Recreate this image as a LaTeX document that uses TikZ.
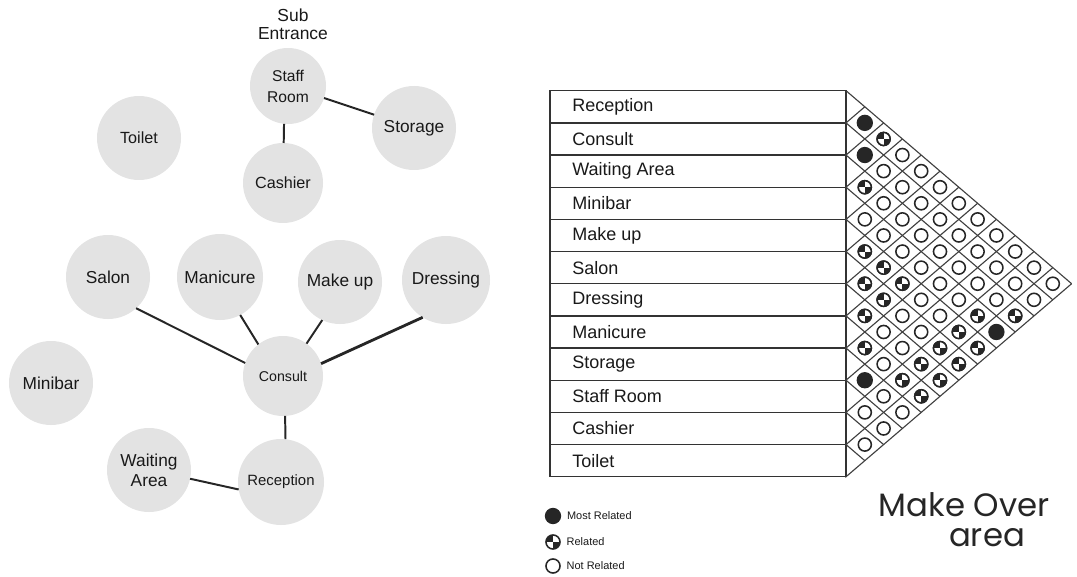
\documentclass[tikz,border=0pt]{standalone}
\usepackage{fontspec}
\setmainfont{Liberation Sans}
\newfontfamily\handfont{Poppins}
\usetikzlibrary{positioning}
\def\tabx{846}
\def\taby{90.7}
\def\rowh{32.17}
\def\halfw{18.8}
\tikzset{
  room/.style={circle,fill=black!11,text=black!90,inner sep=0pt,outer sep=0pt,
    minimum size=2.1cm,align=center,font=\fontsize{12.3}{14.5}\selectfont},
  link/.style={draw=black!85,line width=1.4pt},
  gridline/.style={draw=black!75,line width=0.8pt},
  rowline/.style={draw=black!80,line width=0.9pt},
  rowlabel/.style={anchor=west,inner sep=0pt,text=black!90,font=\fontsize{12.8}{14}\selectfont},
  notrel/.style={circle,draw=black!85,line width=1.1pt,fill=white,inner sep=0pt,minimum size=9.3pt},
  mostrel/.style={notrel,fill=black!85,minimum size=10.5pt},
  somerel/.style={notrel,path picture={
    \fill[black!85] (path picture bounding box.center) -- (path picture bounding box.west)
      |- (path picture bounding box.north) -- cycle;
    \fill[black!85] (path picture bounding box.center) -- (path picture bounding box.east)
      |- (path picture bounding box.south) -- cycle;}},
  legend/.style={anchor=west,inner sep=0pt,text=black!90,font=\fontsize{7.8}{9}\selectfont},
}

\begin{document}
\begin{tikzpicture}[x=0.025cm,y=-0.025cm]
  \useasboundingbox (0,0) rectangle (1077,577);

  % bubble diagram
  \node[room,minimum size=1.9cm,font=\fontsize{11.1}{15}\selectfont] (staff) at (288,86) {Staff\\Room};
  \node[align=center,inner sep=0pt,text=black!90,font=\fontsize{12.4}{13}\selectfont] (subent) at (293,24) {Sub\\Entrance};
  \node[room] (storage) at (414,128) {Storage};
  \node[room,font=\fontsize{11.5}{14}\selectfont] (toilet) at (139,138) {Toilet};
  \node[room,minimum size=2cm,font=\fontsize{11.5}{14}\selectfont] (cashier) at (283,183) {Cashier};
  \node[room] (salon) at (108,277) {Salon};
  \node[room,minimum size=2.15cm] (manicure) at (220,277) {Manicure};
  \node[room] (makeup) at (340,282) {Make up};
  \node[room,minimum size=2.2cm] (dressing) at (446,280) {Dressing};
  \node[room] (minibar) at (51,383) {Minibar};
  \node[room,minimum size=2cm,font=\fontsize{10.1}{12}\selectfont] (consult) at (283,376) {Consult};
  \node[room,font=\fontsize{12.3}{14.2}\selectfont] (waiting) at (149,470) {Waiting\\Area};
  \node[room,minimum size=2.15cm,font=\fontsize{10.6}{12}\selectfont] (reception) at (281,482) {Reception};

  \draw[link] (staff.-96) -- (cashier.89);
  \draw[link] (staff) -- (storage);
  \draw[link] (salon.-48) -- (consult.161);
  \draw[link] (manicure.-62) -- (consult.128);
  \draw[link] (makeup.245) -- (consult.54);
  \draw[link,line width=2pt] (dressing.238) -- (consult.18);
  \draw[link] (consult.-87) -- (reception.84);
  \draw[link] (waiting.-12) -- (reception.190);

  % relation chart
  \draw[rowline] (550,\taby) rectangle (\tabx,{\taby+12*\rowh});
  \foreach \r [count=\m from 0] in {Reception,Consult,Waiting Area,Minibar,Make up,Salon,
      Dressing,Manicure,Storage,Staff Room,Cashier,Toilet} {
    \draw[rowline] (550,{\taby+\rowh*\m}) -- (\tabx,{\taby+\rowh*\m});
    \node[rowlabel] (row-\m) at (572,{\taby+\rowh*(\m+0.5)}) {\r};
  }
  \foreach \m in {0,...,12}
    \draw[gridline] ({\tabx+\halfw*(12-\m)},{\taby+\rowh/2*(\m+12)})
      -- (\tabx,{\taby+\rowh*\m}) -- ({\tabx+\halfw*\m},{\taby+\rowh/2*\m});

  \foreach \i in {0,...,10} {
    \pgfmathtruncatemacro\jstart{\i+1}
    \foreach \j in {\jstart,...,11}
      \node[notrel] (m-\i-\j) at ({\tabx+\halfw*(\j-\i)},{\taby+\rowh/2*(\i+\j+1)}) {};
  }
  \foreach \i/\j in {0/1,1/2,3/11,8/9}
    \node[mostrel] (most-\i-\j) at (m-\i-\j) {};
  \foreach \i/\j in {0/2,2/3,4/5,4/6,5/6,4/7,5/7,6/7,3/10,2/11,4/10,7/8,5/10,4/11,6/10,5/11,7/10,6/11,7/11}
    \node[somerel] (some-\i-\j) at (m-\i-\j) {};

  % legend
  \node[mostrel] (lgmost) at (553,516) {};
  \node[legend,right=4pt of lgmost] (lgmosttxt) {Most Related};
  \node[somerel,minimum size=10pt] (lgsome) at (553,542) {};
  \node[legend,right=4pt of lgsome] (lgsometxt) {Related};
  \node[notrel,minimum size=10pt] (lgnot) at (553,566) {};
  \node[legend,right=4pt of lgnot] (lgnottxt) {Not Related};

  \node[text=black!85,font=\handfont\fontsize{23}{24}\selectfont] (makeover) at (964,505) {Make Over};
  \node[text=black!85,font=\handfont\fontsize{23}{24}\selectfont] (area) at (987,538) {area};
\end{tikzpicture}
\end{document}
